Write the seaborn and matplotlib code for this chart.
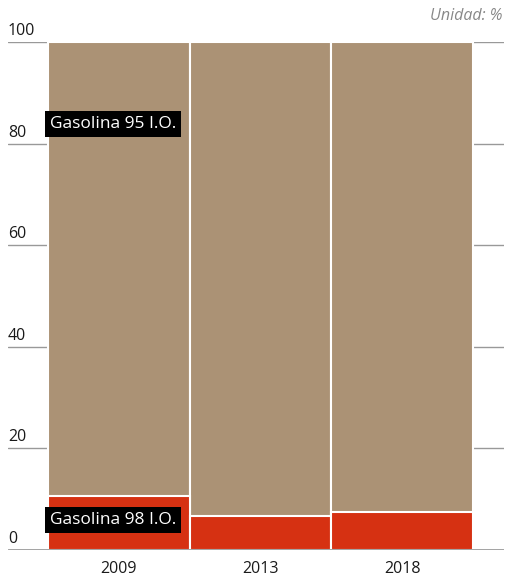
import matplotlib
matplotlib.use('Agg')
import matplotlib.pyplot as plt
import matplotlib.transforms as mtransforms
import seaborn as sns
import pandas as pd

years = ['2009', '2013', '2018']
gasolina_98 = [10.6, 6.6, 7.4]
gasolina_95 = [100 - v for v in gasolina_98]
yticks = [0, 20, 40, 60, 80, 100]

tan = '#AB9275'
red = '#D63112'

sns.set_theme(style='white')
plt.rcParams['font.family'] = ['Open Sans', 'DejaVu Sans']

df = pd.DataFrame({'year': years, 'g98': gasolina_98, 'g95': gasolina_95})
df['total'] = df['g98'] + df['g95']

fig = plt.figure(figsize=(5.06, 5.79), dpi=100)
ax = fig.add_axes([8 / 506, 29 / 579, 496 / 506, 508 / 579])

sns.barplot(data=df, x='year', y='total', color=tan, width=1, edgecolor='white',
            linewidth=1.5, saturation=1, ax=ax, zorder=2)
sns.barplot(data=df, x='year', y='g98', color=red, width=1, edgecolor='white',
            linewidth=1.5, saturation=1, ax=ax, zorder=3)

ax.set_xlim(-0.782, 2.719)
ax.set_ylim(0, 100)
for s in ax.spines.values():
    s.set_visible(False)

for t in yticks[1:]:
    ax.axhline(t, color='#999999', lw=1, zorder=1)
ax.axhline(0, color='#9a9a9a', lw=2, zorder=4)

# y tick labels sit above the gridline stubs
ax.set_yticks([])
trans = mtransforms.blended_transform_factory(ax.transAxes, ax.transData)
for t in yticks:
    ax.text(0.0, t + 0.6, str(t), transform=trans, ha='left', va='bottom',
            fontsize=11.5, color='#1a1a1a')

ax.set_xlabel('')
ax.set_ylabel('')
ax.tick_params(axis='x', length=0, pad=8, labelsize=11.5, labelcolor='#1a1a1a')

box = dict(facecolor='black', edgecolor='none', pad=3.5)
ax.text(-0.485, 83.8, 'Gasolina 95 I.O.', color='white', fontsize=12.5, va='center',
        ha='left', bbox=box, zorder=5)
ax.text(-0.485, 5.9, 'Gasolina 98 I.O.', color='white', fontsize=12.5, va='center',
        ha='left', bbox=box, zorder=5)

fig.text(0.993, 0.987, 'Unidad: %', ha='right', va='top', fontsize=11.5,
         style='italic', color='#888888')

fig.savefig('out.png', dpi=100)
